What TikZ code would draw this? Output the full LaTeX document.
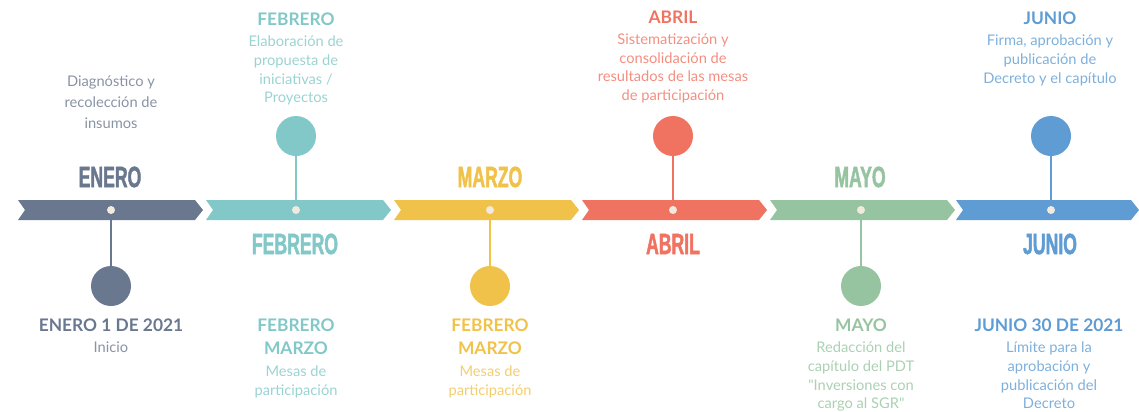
\documentclass[tikz,border=0pt]{standalone}
\usepackage{fontspec}
\setmainfont{Lato}[Ligatures=TeXOff]
\newfontfamily\monthfont{Liberation Sans}[FakeStretch=0.6, FakeBold=1.5]
\usetikzlibrary{positioning}
\definecolor{eneCol}{RGB}{106,120,143}
\definecolor{febCol}{RGB}{130,200,200}
\definecolor{marCol}{RGB}{240,194,74}
\definecolor{abrCol}{RGB}{240,115,98}
\definecolor{mayCol}{RGB}{150,196,160}
\definecolor{junCol}{RGB}{94,156,211}
\definecolor{dotCol}{RGB}{242,234,222}
\begin{document}
\begin{tikzpicture}[x=0.75pt, y=-0.75pt,
  monthlbl/.style={font=\monthfont\bfseries\fontsize{22}{24}\selectfont, text=#1, inner sep=0pt},
  hitodot/.style={circle, fill=dotCol, minimum size=6pt, inner sep=0pt},
  hitocirc/.style={circle, fill=#1, minimum size=30pt, inner sep=0pt},
  stem/.style={line width=1.5pt, draw=#1},
  headtxt/.style={font=\bfseries\fontsize{13}{17}\selectfont, text=#1, align=center, inner sep=0pt},
  desctxt/.style={font=\fontsize{11}{14}\selectfont, text=#1!80!white, align=center, inner sep=0pt},
]
\useasboundingbox (0,0) rectangle (1139,411);
% ENERO
\fill[eneCol] (18,200) -- ++(177,0) -- ++(8,10) -- ++(-8,10) -- ++(-177,0) -- ++(7,-10) -- cycle;
\node[hitodot] (m1dot) at (111,210) {};
\node[monthlbl=eneCol] (m1lbl) at (110,177) {ENERO};
\node[hitocirc=eneCol] (m1circ) at (111,286) {};
\draw[stem=eneCol] (m1dot) -- (m1circ);
\node[desctxt=eneCol, anchor=north, font=\fontsize{11}{16}\selectfont] (m1top) at (111,75) {Diagnóstico y\\recolección de\\insumos};
\node[headtxt=eneCol, anchor=north] (m1head) at (111,319) {ENERO 1 DE 2021};
\node[desctxt=eneCol, below=7pt of m1head] (m1desc) {Inicio};
% FEBRERO
\fill[febCol] (206,200) -- ++(177,0) -- ++(8,10) -- ++(-8,10) -- ++(-177,0) -- ++(7,-10) -- cycle;
\node[hitodot] (m2dot) at (296,210) {};
\node[monthlbl=febCol] (m2lbl) at (295,244) {FEBRERO};
\node[hitocirc=febCol] (m2circ) at (296,136) {};
\draw[stem=febCol] (m2dot) -- (m2circ);
\node[headtxt=febCol, anchor=north] (m2head) at (296,13) {FEBRERO};
\node[desctxt=febCol, below=7pt of m2head] (m2desc) {Elaboración de\\propuesta de\\iniciativas /\\Proyectos};
\node[headtxt=febCol, anchor=north] (m2bhead) at (296,319) {FEBRERO\\MARZO};
\node[desctxt=febCol, below=8pt of m2bhead] (m2bdesc) {Mesas de\\participación};
% MARZO
\fill[marCol] (394,200) -- ++(177,0) -- ++(8,10) -- ++(-8,10) -- ++(-177,0) -- ++(7,-10) -- cycle;
\node[hitodot] (m3dot) at (490,210) {};
\node[monthlbl=marCol] (m3lbl) at (490,177) {MARZO};
\node[hitocirc=marCol] (m3circ) at (490,286) {};
\draw[stem=marCol] (m3dot) -- (m3circ);
\node[headtxt=marCol, anchor=north] (m3head) at (490,319) {FEBRERO\\MARZO};
\node[desctxt=marCol, below=8pt of m3head] (m3desc) {Mesas de\\participación};
% ABRIL
\fill[abrCol] (582,200) -- ++(177,0) -- ++(8,10) -- ++(-8,10) -- ++(-177,0) -- ++(7,-10) -- cycle;
\node[hitodot] (m4dot) at (673,210) {};
\node[monthlbl=abrCol] (m4lbl) at (673,244) {ABRIL};
\node[hitocirc=abrCol] (m4circ) at (673,136) {};
\draw[stem=abrCol] (m4dot) -- (m4circ);
\node[headtxt=abrCol, anchor=north] (m4head) at (673,11) {ABRIL};
\node[desctxt=abrCol, below=7pt of m4head] (m4desc) {Sistematización y\\consolidación de\\resultados de las mesas\\de participación};
% MAYO
\fill[mayCol] (770,200) -- ++(177,0) -- ++(8,10) -- ++(-8,10) -- ++(-177,0) -- ++(7,-10) -- cycle;
\node[hitodot] (m5dot) at (861,210) {};
\node[monthlbl=mayCol] (m5lbl) at (860,177) {MAYO};
\node[hitocirc=mayCol] (m5circ) at (861,286) {};
\draw[stem=mayCol] (m5dot) -- (m5circ);
\node[headtxt=mayCol, anchor=north] (m5head) at (861,319) {MAYO};
\node[desctxt=mayCol, below=7pt of m5head] (m5desc) {Redacción del\\capítulo del PDT\\"Inversiones con\\cargo al SGR"};
% JUNIO
\fill[junCol] (956,200) -- ++(175,0) -- ++(8,10) -- ++(-8,10) -- ++(-175,0) -- ++(7,-10) -- cycle;
\node[hitodot] (m6dot) at (1051,210) {};
\node[monthlbl=junCol] (m6lbl) at (1050,244) {JUNIO};
\node[hitocirc=junCol] (m6circ) at (1051,136) {};
\draw[stem=junCol] (m6dot) -- (m6circ);
\node[headtxt=junCol, anchor=north] (m6head) at (1050,12) {JUNIO};
\node[desctxt=junCol, below=7pt of m6head] (m6desc) {Firma, aprobación y\\publicación de\\Decreto y el capítulo};
\node[headtxt=junCol, anchor=north] (m6bhead) at (1049,319) {JUNIO 30 DE 2021};
\node[desctxt=junCol, below=7pt of m6bhead] (m6bdesc) {Límite para la\\aprobación y\\publicación del\\Decreto};
\end{tikzpicture}
\end{document}
